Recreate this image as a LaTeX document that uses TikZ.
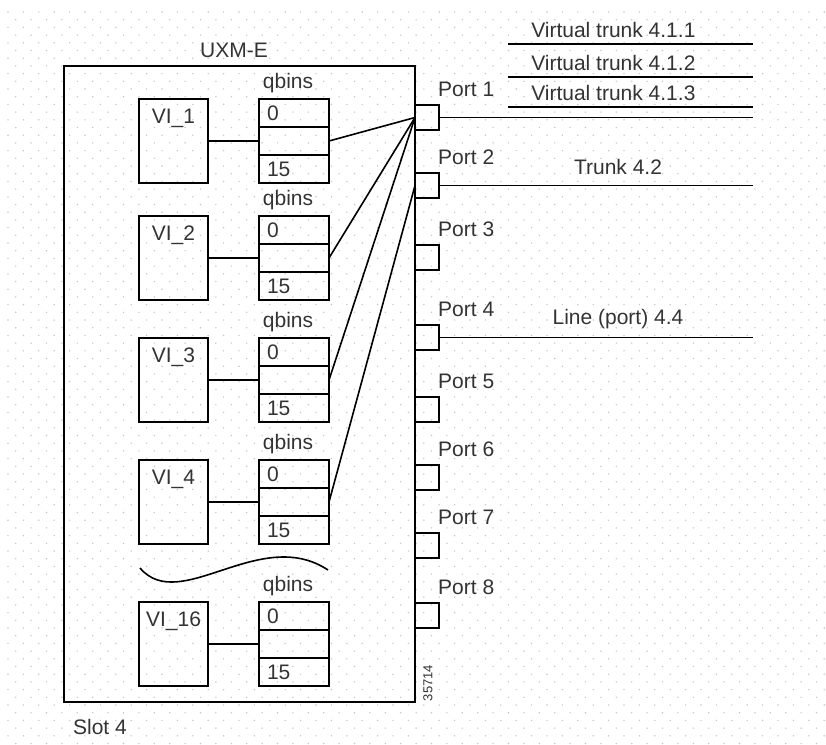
\documentclass[tikz,border=0pt]{standalone}
\usepackage{fontspec}
\setmainfont{Liberation Sans}
\usetikzlibrary{positioning}

\begin{document}
\begin{tikzpicture}[x=1pt,y=-1pt,
  txt/.style={font=\fontsize{21}{25}\selectfont,text=black!80,inner sep=0pt},
  vibox/.style={draw,line width=1.6pt,anchor=north west,minimum width=69pt,minimum height=84pt,inner sep=0pt,outer sep=0pt},
  qcell/.style={draw,line width=1.6pt,txt,text width=54pt,inner xsep=8pt,inner ysep=0pt,minimum height=28pt,align=left,outer sep=0pt},
  portbox/.style={draw,line width=1.6pt,anchor=north west,minimum width=24pt,minimum height=25pt,inner sep=0pt,outer sep=0pt},
  wire/.style={line width=1.6pt},
  dotc/.style={fill=gray!45}]
\useasboundingbox (0,0) rectangle (826,744);

% dotted background
\foreach \r in {0,...,96}
  \foreach \c in {0,...,53}
    \fill[dotc] ({8+15.4*\c+7.7*mod(\r,2)},{12+7.7*\r}) circle (0.8);

% card
\node[draw,line width=1.9pt,anchor=north west,minimum width=351pt,minimum height=636pt,inner sep=0pt,outer sep=0pt] (uxm) at (64,66) {};
\node[txt] (uxmlab) at (234,50) {UXM-E};
\node[txt] (slot) at (100,727) {Slot 4};
\node[font=\fontsize{13}{15}\selectfont,text=black!80,rotate=90,inner sep=0pt] (fignum) at (428,683) {35714};

% VIs and their qbins
\foreach \i/\y in {1/99,2/216,3/338,4/460,16/602} {
  \node[vibox,label={[txt,anchor=north,yshift=-10pt]north:VI\_\i}] (vi\i) at (139,\y) {};
  \node[qcell,anchor=north west] (qa\i) at (259,\y) {0};
  \node[qcell,below=0pt of qa\i] (qb\i) {\strut};
  \node[qcell,below=0pt of qb\i] (qc\i) {15};
  \node[txt,above=6pt of qa\i,xshift=-6pt] (ql\i) {qbins};
  \draw[wire] (vi\i.east) -- (qb\i.west);
}
\draw[wire] (140,568) .. controls (180,615) and (260,525) .. (328,570);

% ports
\foreach \p/\y in {1/105,2/173,3/245,4/325,5/397,6/465,7/533,8/603} {
  \node[portbox] (p\p) at (415,\y) {};
  \node[txt,anchor=west] (pl\p) at (438,\y-16) {Port \p};
}

\draw[wire] (qb1.east) -- (p1.west);
\draw[wire] (qb2.east) -- (p1.west);
\draw[wire] (qb3.east) -- (p1.west);
\draw[wire] (qb4.east) -- (p2.west);

% trunks and lines
\coordinate (rim) at (753,0);
\draw[wire] (p1.east) -- (p1.east -| rim);
\draw[wire] (p2.east) -- (p2.east -| rim);
\draw[wire] (p4.east) -- (p4.east -| rim);
\foreach \k/\y in {1/44,2/77,3/107} {
  \coordinate (vt\k) at (508,\y);
  \draw[wire] (vt\k) -- (vt\k -| rim) node[txt,pos=0.43,above=5pt] (vtl\k) {Virtual trunk 4.1.\k};
}
\node[txt] (trk2) at (618,167) {Trunk 4.2};
\node[txt] (lin4) at (618,319) {Line (port) 4.4};
\end{tikzpicture}
\end{document}
